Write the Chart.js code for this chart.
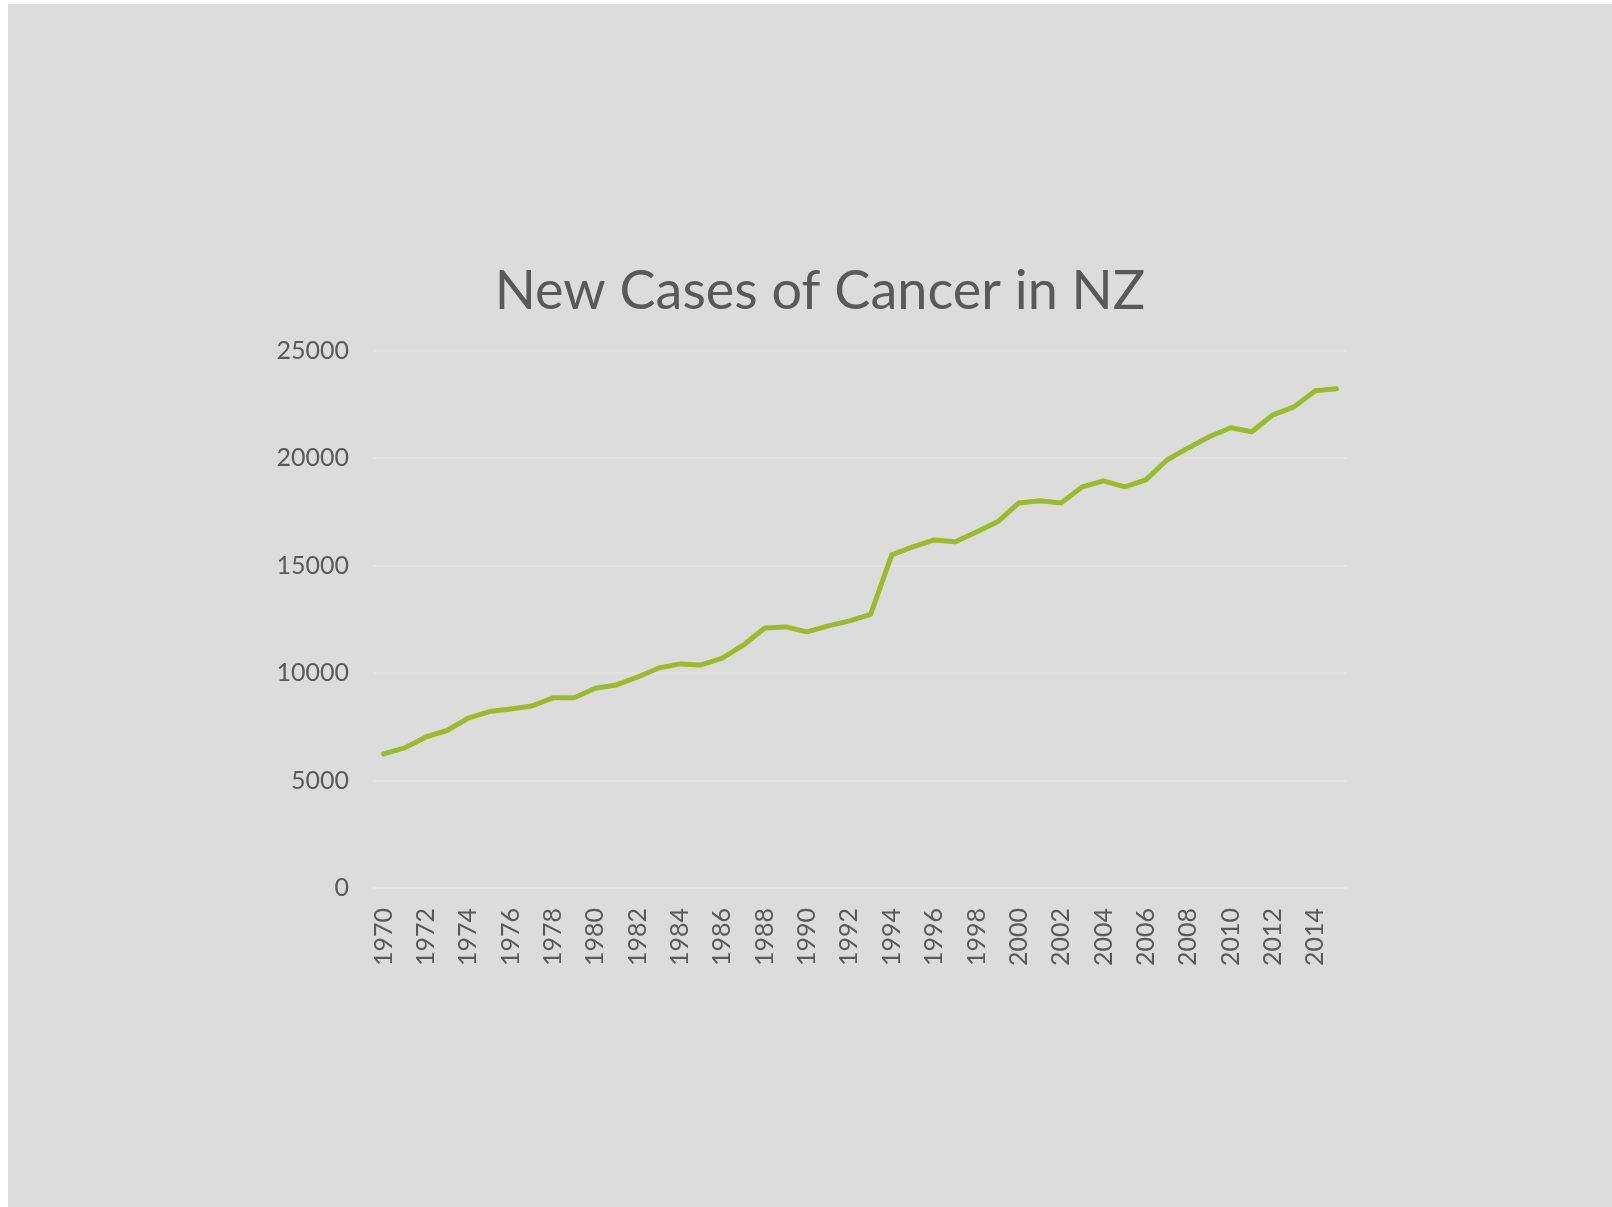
<!DOCTYPE html>
<html>
<head>
<meta charset="utf-8">
<script src="https://cdn.jsdelivr.net/npm/chart.js@4"></script>
<style>
  html, body { margin: 0; padding: 0; background: #ffffff; overflow: hidden; }
  #wrap { position: absolute; left: 8px; top: 4px; width: 1604px; height: 1203px; background: #dcdcdc; }
</style>
</head>
<body>
<div id="wrap"><canvas id="chart1" width="1604" height="1203"></canvas></div>
<script>
const years = ['1970', '1971', '1972', '1973', '1974', '1975', '1976', '1977', '1978', '1979',
  '1980', '1981', '1982', '1983', '1984', '1985', '1986', '1987', '1988', '1989',
  '1990', '1991', '1992', '1993', '1994', '1995', '1996', '1997', '1998', '1999',
  '2000', '2001', '2002', '2003', '2004', '2005', '2006', '2007', '2008', '2009',
  '2010', '2011', '2012', '2013', '2014', '2015'];

const newCases = [6240, 6520, 7030, 7330, 7910, 8210, 8330, 8470, 8850, 8850,
  9300, 9450, 9820, 10240, 10430, 10380, 10700, 11310, 12100, 12150,
  11920, 12200, 12430, 12730, 15500, 15880, 16200, 16110, 16570, 17040,
  17920, 18020, 17920, 18670, 18950, 18670, 18990, 19920, 20480, 21000,
  21420, 21230, 22020, 22390, 23140, 23230];

const yTicks = [0, 5000, 10000, 15000, 20000, 25000];

var textColor = '#595959';
var font = 'Lato, "Open Sans", sans-serif';

var ctx = document.getElementById('chart1').getContext('2d');
new Chart(ctx, {
    type: 'line',
    data: {
        labels: years,
        datasets: [{
            label: 'New Cases',
            data: newCases,
            borderColor: '#9dba2c',
            backgroundColor: '#9dba2c',
            borderWidth: 5,
            borderCapStyle: 'round',
            borderJoinStyle: 'round',
            pointRadius: 0,
            tension: 0,
            fill: false
        }]
    },
    options: {
        responsive: false,
        animation: false,
        // uneven left/right padding keeps the title centred where the reference has it
        layout: {
            padding: { left: 260, right: 240, top: 0, bottom: 0 }
        },
        plugins: {
            legend: { display: false },
            tooltip: { enabled: false },
            title: {
                display: true,
                text: 'New Cases of Cancer in NZ',
                color: textColor,
                font: { family: font, size: 54, weight: 'normal', lineHeight: 1.2 },
                padding: { top: 255, bottom: 27 }
            }
        },
        scales: {
            x: {
                offset: true,
                grid: { display: false, drawTicks: false },
                border: { display: false },
                ticks: {
                    autoSkip: false,
                    minRotation: 90,
                    maxRotation: 90,
                    padding: 20,
                    color: textColor,
                    font: { family: font, size: 25 },
                    callback: function(value, index) {
                        return index % 2 === 0 ? this.getLabelForValue(value) : '';
                    }
                },
                afterFit: function(scale) { scale.height = 319; }
            },
            y: {
                min: 0,
                max: 25000,
                grid: { color: '#e2e2e2', lineWidth: 2, drawTicks: false },
                border: { display: false },
                afterBuildTicks: function(scale) {
                    scale.ticks = yTicks.map(function(v) { return { value: v }; });
                },
                ticks: {
                    padding: 24,
                    color: textColor,
                    font: { family: font, size: 25 },
                    callback: function(value) { return String(value); }
                },
                afterFit: function(scale) { scale.width = 105; }
            },
            // empty spacer on the right
            y2: {
                position: 'right',
                grid: { display: false, drawTicks: false },
                border: { display: false },
                ticks: { display: false },
                afterFit: function(scale) { scale.width = 25; }
            }
        }
    }
});
</script>
</body>
</html>
